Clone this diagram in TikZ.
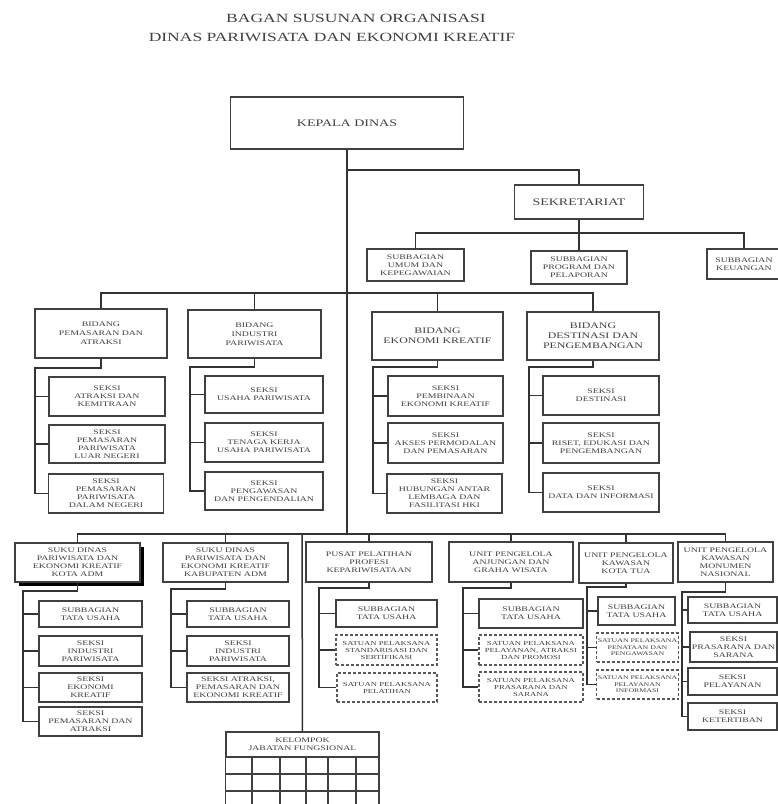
\documentclass[tikz,border=0pt]{standalone}
\usepackage{fontspec}
\usepackage{tikz}
\usetikzlibrary{shadows}

\newfontfamily\orgfont[FakeStretch=1.4]{Liberation Serif}

\tikzset{
    kotak/.style = {draw = black!75, line width = 1.1pt, fill = white, text = black!75,
        align = center, inner sep = 1pt, font = \orgfont\fontsize{7}{8}\selectfont},
    besar/.style = {font = \orgfont\fontsize{10}{12}\selectfont},
    sedang/.style = {font = \orgfont\fontsize{8.5}{10}\selectfont},
    bidang/.style = {font = \orgfont\fontsize{7}{9}\selectfont},
    tebal/.style = {line width = 2pt},
    putus/.style = {dash pattern = on 3pt off 2pt, line width = 1.4pt, draw = black!65,
        font = \orgfont\fontsize{6.2}{7}\selectfont},
    garis/.style = {line width = 1.5pt, draw = black!80},
}

\begin{document}
\begin{tikzpicture}[x = 1pt, y = -1pt]

    \useasboundingbox (0,0) rectangle (778,804);
    \clip (0,0) rectangle (778,804);

    % judul
    \node [text = black!75, font = \orgfont\fontsize{12.5}{14}\selectfont] (judul1) at (356,18) {BAGAN SUSUNAN ORGANISASI};
    \node [text = black!75, font = \orgfont\fontsize{12.5}{14}\selectfont] (judul2) at (332,37) {DINAS PARIWISATA DAN EKONOMI KREATIF};

    % kepala dan sekretariat
    \node [kotak, besar, minimum width = 233pt, minimum height = 52pt] (kepala) at (347,123) {KEPALA DINAS};
    \node [kotak, besar, minimum width = 129pt, minimum height = 34pt] (sekr) at (579,202) {SEKRETARIAT};
    \node [kotak, minimum width = 97pt, minimum height = 32pt] (umum) at (415.5,265) {SUBBAGIAN\\UMUM DAN\\KEPEGAWAIAN};
    \node [kotak, minimum width = 96pt, minimum height = 33pt] (prog) at (579,267.5) {SUBBAGIAN\\PROGRAM DAN\\PELAPORAN};
    \node [kotak, minimum width = 74pt, minimum height = 30pt] (keu) at (744,264) {SUBBAGIAN\\KEUANGAN};

    % bidang
    \node [kotak, bidang, minimum width = 132pt, minimum height = 49pt] (bid1) at (101,333.5) {BIDANG\\PEMASARAN DAN\\ATRAKSI};
    \node [kotak, bidang, minimum width = 133pt, minimum height = 48pt] (bid2) at (254.5,334) {BIDANG\\INDUSTRI\\PARIWISATA};
    \node [kotak, sedang, minimum width = 131pt, minimum height = 48pt] (bid3) at (437.5,336) {BIDANG\\EKONOMI KREATIF};
    \node [kotak, sedang, minimum width = 132pt, minimum height = 48pt] (bid4) at (593,336) {BIDANG\\DESTINASI DAN\\PENGEMBANGAN};

    % seksi bidang
    \node [kotak, minimum width = 116pt, minimum height = 39pt] (s11) at (107,396.5) {SEKSI\\ATRAKSI DAN\\KEMITRAAN};
    \node [kotak, minimum width = 116pt, minimum height = 38pt] (s12) at (107,444) {SEKSI\\PEMASARAN\\PARIWISATA\\LUAR NEGERI};
    \node [kotak, minimum width = 115pt, minimum height = 39pt] (s13) at (106,493.5) {SEKSI\\PEMASARAN\\PARIWISATA\\DALAM NEGERI};

    \node [kotak, minimum width = 118pt, minimum height = 37pt] (s21) at (264,394.5) {SEKSI\\USAHA PARIWISATA};
    \node [kotak, minimum width = 118pt, minimum height = 39pt] (s22) at (264,442.5) {SEKSI\\TENAGA KERJA\\USAHA PARIWISATA};
    \node [kotak, minimum width = 118pt, minimum height = 38pt] (s23) at (264,491) {SEKSI\\PENGAWASAN\\DAN PENGENDALIAN};

    \node [kotak, minimum width = 115pt, minimum height = 40pt] (s31) at (445.5,396) {SEKSI\\PEMBINAAN\\EKONOMI KREATIF};
    \node [kotak, minimum width = 115pt, minimum height = 40pt] (s32) at (445.5,443) {SEKSI\\AKSES PERMODALAN\\DAN PEMASARAN};
    \node [kotak, minimum width = 115pt, minimum height = 39pt] (s33) at (444.5,493.5) {SEKSI\\HUBUNGAN ANTAR\\LEMBAGA DAN\\FASILITASI HKI};

    \node [kotak, minimum width = 116pt, minimum height = 39pt] (s41) at (601,395.5) {SEKSI\\DESTINASI};
    \node [kotak, minimum width = 116pt, minimum height = 40pt] (s42) at (601,443) {SEKSI\\RISET, EDUKASI DAN\\PENGEMBANGAN};
    \node [kotak, minimum width = 116pt, minimum height = 39pt] (s43) at (601,492.5) {SEKSI\\DATA DAN INFORMASI};

    % unit bawah
    \node [kotak, minimum width = 125pt, minimum height = 39pt,
        drop shadow = {shadow xshift = 4pt, shadow yshift = -4pt, fill = black, opacity = 1}] (sud1) at (77.5,562.5) {SUKU DINAS\\PARIWISATA DAN\\EKONOMI KREATIF\\KOTA ADM};
    \node [kotak, minimum width = 125pt, minimum height = 39pt] (sud2) at (225.5,562.5) {SUKU DINAS\\PARIWISATA DAN\\EKONOMI KREATIF\\KABUPATEN ADM};
    \node [kotak, minimum width = 126pt, minimum height = 40pt] (pus) at (369,562) {PUSAT PELATIHAN\\PROFESI\\KEPARIWISATAAN};
    \node [kotak, minimum width = 124pt, minimum height = 40pt] (anj) at (511,562) {UNIT PENGELOLA\\ANJUNGAN DAN\\GRAHA WISATA};
    \node [kotak, minimum width = 94pt, minimum height = 40pt] (tua) at (626,563) {UNIT PENGELOLA\\KAWASAN\\KOTA TUA};
    \node [kotak, minimum width = 95pt, minimum height = 40pt] (mon) at (725.5,562) {UNIT PENGELOLA\\KAWASAN\\MONUMEN\\NASIONAL};

    % kota adm
    \node [kotak, minimum width = 103pt, minimum height = 26pt] (k1) at (90.5,614) {SUBBAGIAN\\TATA USAHA};
    \node [kotak, minimum width = 103pt, minimum height = 30pt] (k2) at (90.5,651) {SEKSI\\INDUSTRI\\PARIWISATA};
    \node [kotak, minimum width = 103pt, minimum height = 29pt] (k3) at (90.5,687.5) {SEKSI\\EKONOMI\\KREATIF};
    \node [kotak, minimum width = 103pt, minimum height = 29pt] (k4) at (90.5,721.5) {SEKSI\\PEMASARAN DAN\\ATRAKSI};

    % kabupaten adm
    \node [kotak, minimum width = 102pt, minimum height = 26pt] (b1) at (238,614) {SUBBAGIAN\\TATA USAHA};
    \node [kotak, minimum width = 102pt, minimum height = 30pt] (b2) at (238,651) {SEKSI\\INDUSTRI\\PARIWISATA};
    \node [kotak, minimum width = 102pt, minimum height = 29pt] (b3) at (238,687.5) {SEKSI ATRAKSI,\\PEMASARAN DAN\\EKONOMI KREATIF};

    % pusat pelatihan
    \node [kotak, tebal, minimum width = 101pt, minimum height = 27pt] (p1) at (386.5,613.5) {SUBBAGIAN\\TATA USAHA};
    \node [kotak, putus, minimum width = 101pt, minimum height = 30pt] (p2) at (386.5,650) {SATUAN PELAKSANA\\STANDARISASI DAN\\SERTIFIKASI};
    \node [kotak, putus, minimum width = 100pt, minimum height = 29pt] (p3) at (387,687.5) {SATUAN PELAKSANA\\PELATIHAN};

    % anjungan
    \node [kotak, tebal, minimum width = 104pt, minimum height = 29pt] (a1) at (531,613.5) {SUBBAGIAN\\TATA USAHA};
    \node [kotak, putus, minimum width = 104pt, minimum height = 30pt] (a2) at (531,650) {SATUAN PELAKSANA\\PELAYANAN, ATRAKSI\\DAN PROMOSI};
    \node [kotak, putus, minimum width = 104pt, minimum height = 30pt] (a3) at (531,687) {SATUAN PELAKSANA\\PRASARANA DAN\\SARANA};

    % kota tua
    \node [kotak, tebal, minimum width = 77pt, minimum height = 28pt] (t1) at (636.5,611) {SUBBAGIAN\\TATA USAHA};
    \node [kotak, putus, font = \orgfont\fontsize{5.6}{6.6}\selectfont, minimum width = 79pt, minimum height = 29pt] (t2) at (637.5,647.5) {SATUAN PELAKSANA\\PENATAAN DAN\\PENGAWASAN};
    \node [kotak, putus, font = \orgfont\fontsize{5.6}{6.6}\selectfont, minimum width = 79pt, minimum height = 29pt] (t3) at (637.5,684.5) {SATUAN PELAKSANA\\PELAYANAN\\INFORMASI};

    % monas
    \node [kotak, minimum width = 89pt, minimum height = 26pt] (m1) at (732.5,610) {SUBBAGIAN\\TATA USAHA};
    \node [kotak, minimum width = 87pt, minimum height = 30pt] (m2) at (733.5,647) {SEKSI\\PRASARANA DAN\\SARANA};
    \node [kotak, minimum width = 89pt, minimum height = 27pt] (m3) at (732.5,681.5) {SEKSI\\PELAYANAN};
    \node [kotak, minimum width = 89pt, minimum height = 27pt] (m4) at (732.5,716.5) {SEKSI\\KETERTIBAN};

    % kelompok jabatan fungsional
    \node [kotak, minimum width = 153pt, minimum height = 25pt] (kjf) at (302.5,744.5) {KELOMPOK\\JABATAN FUNGSIONAL};
    \draw [draw = black!75, line width = 1.1pt] (kjf.south west) rectangle (379,812);
    \foreach \y in {774,791}
        \draw [draw = black!75, line width = 1.1pt] (226,\y) -- (379,\y);
    \foreach \x in {252,280,306,328,356}
        \draw [draw = black!75, line width = 1.1pt] (\x,757) -- (\x,812);

    % titik bantu
    \coordinate (busA) at (347,170);
    \coordinate (busS) at (579,233);
    \coordinate (busB) at (347,293);
    \coordinate (busC) at (347,534);
    \coordinate (busK) at (302,534);

    \coordinate (sp1) at (35,368);
    \coordinate (sp2) at (190,367);
    \coordinate (sp3) at (373,367);
    \coordinate (sp4) at (529,367);
    \coordinate (sp5) at (23,591);
    \coordinate (sp6) at (171,589);
    \coordinate (sp7) at (319,588);
    \coordinate (sp8) at (463,588);
    \coordinate (sp9) at (587,587);
    \coordinate (sp10) at (682,592);

    % garis utama
    \draw [garis] (kepala) -- (busC);
    \draw [garis] (busA) -| (sekr);
    \draw [garis] (sekr) -- (prog);
    \draw [garis] (umum) |- (busS) -| (keu);

    \draw [garis] (bid1) |- (busB) -| (bid4);
    \draw [garis] (bid2) -- (bid2 |- busB);
    \draw [garis] (bid3) -- (bid3 |- busB);

    \draw [garis] (sud1) |- (busC) -| (mon);
    \draw [garis] (sud2) -- (sud2 |- busC);
    \draw [garis] (pus) -- (pus |- busC);
    \draw [garis] (anj) -- (anj |- busC);
    \draw [garis] (tua) -- (tua |- busC);
    \draw [garis] (busK) -- (kjf);

    % garis seksi
    \draw [garis] (bid1) |- (sp1) |- (s13);
    \draw [garis] (sp1 |- s11) -- (s11);
    \draw [garis] (sp1 |- s12) -- (s12);

    \draw [garis] (bid2) |- (sp2) |- (s23);
    \draw [garis] (sp2 |- s21) -- (s21);
    \draw [garis] (sp2 |- s22) -- (s22);

    \draw [garis] (bid3) |- (sp3) |- (s33);
    \draw [garis] (sp3 |- s31) -- (s31);
    \draw [garis] (sp3 |- s32) -- (s32);

    \draw [garis] (bid4) |- (sp4) |- (s43);
    \draw [garis] (sp4 |- s41) -- (s41);
    \draw [garis] (sp4 |- s42) -- (s42);

    % garis unit bawah
    \draw [garis] (sud1) |- (sp5) |- (k4);
    \draw [garis] (sp5 |- k1) -- (k1);
    \draw [garis] (sp5 |- k2) -- (k2);
    \draw [garis] (sp5 |- k3) -- (k3);

    \draw [garis] (sud2) |- (sp6) |- (b3);
    \draw [garis] (sp6 |- b1) -- (b1);
    \draw [garis] (sp6 |- b2) -- (b2);

    \draw [garis] (pus) |- (sp7) |- (p3);
    \draw [garis] (sp7 |- p1) -- (p1);
    \draw [garis] (sp7 |- p2) -- (p2);

    \draw [garis] (anj) |- (sp8) |- (a3);
    \draw [garis] (sp8 |- a1) -- (a1);
    \draw [garis] (sp8 |- a2) -- (a2);

    \draw [garis] (tua) |- (sp9) |- (t3);
    \draw [garis] (sp9 |- t1) -- (t1);
    \draw [garis] (sp9 |- t2) -- (t2);

    \draw [garis] (mon) |- (sp10) |- (m4);
    \draw [garis] (sp10 |- m1) -- (m1);
    \draw [garis] (sp10 |- m2) -- (m2);
    \draw [garis] (sp10 |- m3) -- (m3);

\end{tikzpicture}
\end{document}
